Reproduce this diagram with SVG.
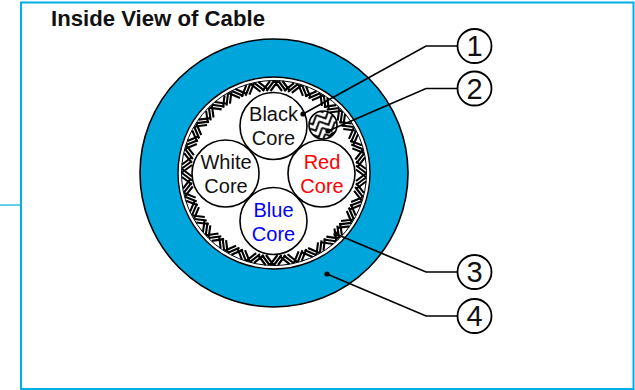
<svg xmlns="http://www.w3.org/2000/svg" width="635" height="390" viewBox="0 0 635 390">
<style>
text{font-family:"Liberation Sans",Arial,sans-serif;text-anchor:middle}
.core{fill:#fff;stroke:#000;stroke-width:1.6}
.t{font-size:20px;fill:#111}
.tag{fill:#fff;stroke:#000;stroke-width:1.8}
.num{font-size:29px;fill:#111}
.lead{fill:none;stroke:#000;stroke-width:1.7}
.b{stroke:#000;stroke-width:2.1;fill:none}
</style>
<defs>
<pattern id="weave" width="14" height="7" patternUnits="userSpaceOnUse" patternTransform="rotate(-25)">
<rect width="14" height="7" fill="#fff"/>
<path d="M0 0L7 7L14 0M0 -7L7 0L14 -7M0 7L7 14L14 7" stroke="#000" stroke-width="1.900" fill="none"/>
</pattern>
<path id="a" class="b" d="M-11.500 -82L-4 -92M-7.500 -82L0 -92M-3.500 -82L4 -92M0.500 -92L8 -82M4.500 -92L12 -82M8.500 -92L16 -82"/>
</defs>
<rect x="21" y="2.500" width="612.500" height="386.500" fill="#fff" stroke="#00aee6" stroke-width="2"/>
<path d="M0 205H20" stroke="#00aee6" stroke-width="1.200"/>
<text x="158" y="26" font-size="22" font-weight="700" fill="#111" textLength="214" lengthAdjust="spacingAndGlyphs">Inside View of Cable</text>
<g id="jacket"><circle cx="274" cy="173" r="134" fill="#00a5dc" stroke="#000" stroke-width="1.600"/></g>
<g id="braid">
<circle cx="274" cy="173" r="96" fill="#fff" stroke="#000" stroke-width="1.400"/>
<g transform="translate(274 173)">
<use href="#a"/><use href="#a" transform="rotate(15)"/><use href="#a" transform="rotate(30)"/><use href="#a" transform="rotate(45)"/>
<use href="#a" transform="rotate(60)"/><use href="#a" transform="rotate(75)"/><use href="#a" transform="rotate(90)"/><use href="#a" transform="rotate(105)"/>
<use href="#a" transform="rotate(120)"/><use href="#a" transform="rotate(135)"/><use href="#a" transform="rotate(150)"/><use href="#a" transform="rotate(165)"/>
<use href="#a" transform="rotate(180)"/><use href="#a" transform="rotate(195)"/><use href="#a" transform="rotate(210)"/><use href="#a" transform="rotate(225)"/>
<use href="#a" transform="rotate(240)"/><use href="#a" transform="rotate(255)"/><use href="#a" transform="rotate(270)"/><use href="#a" transform="rotate(285)"/>
<use href="#a" transform="rotate(300)"/><use href="#a" transform="rotate(315)"/><use href="#a" transform="rotate(330)"/><use href="#a" transform="rotate(345)"/>
</g>
<circle cx="274" cy="173" r="92.500" fill="none" stroke="#000" stroke-width="1"/>
</g>
<g id="drain"><circle cx="323" cy="125" r="14" fill="url(#weave)" stroke="#000" stroke-width="1.600"/><path d="M335.500 131A14 14 0 0 1 327 138.500L331 133Z" fill="#000"/></g>
<g id="black-core"><circle class="core" cx="273.500" cy="126" r="33.500"/><text class="t" x="273.500" y="121">Black</text><text class="t" x="273.500" y="145">Core</text></g>
<g id="white-core"><circle class="core" cx="225.500" cy="173.500" r="33.500"/><text class="t" x="226" y="169">White</text><text class="t" x="226" y="193">Core</text></g>
<g id="red-core"><circle class="core" cx="321.500" cy="173.500" r="33.500"/><text class="t" style="fill:#f00" x="322" y="169">Red</text><text class="t" style="fill:#f00" x="322" y="193">Core</text></g>
<g id="blue-core"><circle class="core" cx="273.500" cy="221" r="33.500"/><text class="t" style="fill:#00f" x="273.500" y="217">Blue</text><text class="t" style="fill:#00f" x="273.500" y="241">Core</text></g>
<g id="connectors">
<path class="lead" d="M303 114L426 46H457"/>
<path class="lead" d="M328 131L426 88.500H457"/>
<path class="lead" d="M336 234L426 272H457"/>
<path class="lead" d="M327 274L426 316H457"/>
<circle cx="303" cy="114" r="2.600"/><circle cx="328" cy="131" r="2.600"/><circle cx="336" cy="234" r="2.600"/><circle cx="327" cy="274" r="2.600"/>
</g>
<g id="tag-1"><circle class="tag" cx="474.500" cy="46" r="17"/><text class="num" x="474.500" y="56">1</text></g>
<g id="tag-2"><circle class="tag" cx="474.500" cy="88.500" r="17"/><text class="num" x="474.500" y="98.500">2</text></g>
<g id="tag-3"><circle class="tag" cx="474.500" cy="272" r="17"/><text class="num" x="474.500" y="282">3</text></g>
<g id="tag-4"><circle class="tag" cx="474.500" cy="316" r="17"/><text class="num" x="474.500" y="326">4</text></g>
</svg>
